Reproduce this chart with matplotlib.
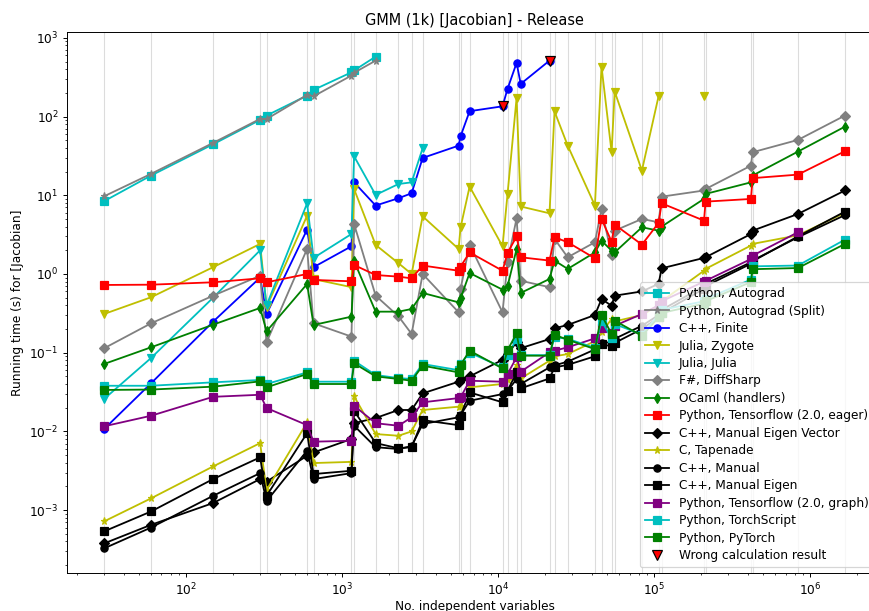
import numpy as np
import matplotlib
matplotlib.use("Agg")
import matplotlib.pyplot as plt

nan = np.nan

n_vars = [30, 60, 150, 300, 330, 600, 660, 1155, 1200, 1650, 2310, 2805, 3300,
          5610, 5775, 6600, 10725, 11550, 13200, 14025, 21450, 23100, 28050,
          41925, 46200, 53625, 56100, 83850, 107250, 112200, 209625, 214500,
          419250, 429000, 838500, 1677000]

autograd = [8.4, 17.8, 44.5, 90.7, 103, 185, 218, 365, 385, 578] + [nan] * 26
autograd_split = [9.7, 18.7, 46.3, 93.4, 93, 188, 181, 332, 360, 514] + [nan] * 26
cpp_finite = [0.0107, 0.0408, 0.248, 0.9, 0.31, 3.66, 1.22, 2.25, 14.6, 7.4, 9.17,
              10.6, 29.8, 42.7, 56.2, 117, 135, 225, 481, 260, 514] + [nan] * 15
julia_zygote = [0.31, 0.506, 1.22, 2.41, 0.38, 5.5, 0.86, 0.68, 12, 2.34, 1.37, 1.0,
                5.4, 2.08, 3.9, 12.9, 2.25, 10.4, 173, 7.2, 5.9, 116, 42.8, 7.4,
                432, 35.2, 208, 20.6, 182, nan, 182, nan, nan, nan, nan, nan]
julia_julia = [0.0258, 0.0855, 0.5, 2.0, 0.40, 7.9, 1.6, 3.22, 31.3, 10.1, 13.9,
               14.6, 39.6] + [nan] * 23
fs_diffsharp = [0.1136, 0.236, 0.53, 0.95, 0.1355, 2.08, 0.236, 0.16, 4.32, 0.53,
                0.29, 0.173, 1.0, 0.326, 0.645, 2.36, 0.326, 1.41, 5.1, 0.82, 0.68,
                2.79, 1.63, 2.53, 6.7, 1.74, 3.55, 5.0, 4.54, 9.6, 11.5, 12, 23.8,
                35.2, 50.5, 103]
ocaml = [0.0718, 0.117, 0.227, 0.37, 0.187, 0.746, 0.225, 0.287, 1.46, 0.332, 0.332,
         0.359, 0.574, 0.436, 0.49, 1.03, 0.632, 0.698, 2.08, 0.574, 0.864, 1.48,
         1.16, 1.88, 2.65, 1.98, 1.88, 3.92, 3.55, 4.0, 9.0, 10.4, 14.6, 17.8,
         35.9, 74.5]
tf_eager = [0.725, 0.731, 0.784, 0.881, 0.784, 1.0, 0.84, 0.807, 1.3, 0.97, 0.925,
            0.88, 1.28, 1.1, 1.24, 1.88, 1.1, 1.85, 3.0, 1.63, 1.48, 2.93, 2.53,
            1.58, 5.0, 2.57, 4.24, 2.36, 4.45, 7.9, 4.76, 8.3, 8.98, 16.5, 18.3, 36.3]
cpp_eigen_vector = [3.77e-4, 6.5e-4, 1.23e-3, 2.48e-3, 2.3e-3, 4.9e-3, 5.4e-3, 8.0e-3,
                    0.0127, 0.0148, 0.0187, 0.0187, 0.0304, 0.0428, 0.0463, 0.05,
                    0.081, 0.096, 0.136, 0.114, 0.149, 0.204, 0.225, 0.301, 0.48,
                    0.395, 0.53, 0.6, 0.75, 1.18, 1.6, 1.63, 3.22, 3.55, 5.79, 11.5]
c_tapenade = [7.18e-4, 1.41e-3, 3.59e-3, 7.1e-3, 1.8e-3, 0.013, 3.96e-3, 4.1e-3,
              0.0279, 9.25e-3, 8.8e-3, 0.01, 0.0187, 0.0206, 0.0212, 0.0363, 0.04,
              0.045, 0.07, 0.047, 0.079, 0.09, 0.096, 0.14, 0.181, 0.268, 0.25, 0.3,
              0.4, 0.45, 1.1, 1.16, 2.3, 2.41, 3.1, 6.0]
cpp_manual = [3.26e-4, 6.0e-4, 1.52e-3, 2.95e-3, 1.3e-3, 5.7e-3, 2.48e-3, 2.95e-3,
              0.0118, 6.3e-3, 5.97e-3, 6.5e-3, 0.0124, 0.0151, 0.0161, 0.0245,
              0.0298, 0.0329, 0.046, 0.04, 0.065, 0.069, 0.0769, 0.11, 0.133, 0.136,
              0.15, 0.22, 0.3, 0.35, 0.7, 0.75, 1.41, 1.48, 2.93, 5.6]
cpp_manual_eigen = [5.36e-4, 9.6e-4, 2.48e-3, 4.68e-3, 1.52e-3, 9.5e-3, 2.87e-3,
                    3.16e-3, 0.0183, 7.1e-3, 6.1e-3, 6.3e-3, 0.0139, 0.012, 0.0158,
                    0.0313, 0.0234, 0.0329, 0.0562, 0.0352, 0.047, 0.065, 0.07, 0.09,
                    0.129, 0.12, 0.133, 0.2, 0.28, 0.32, 0.65, 0.7, 1.35, 1.45, 3.0, 6.2]
tf_graph = [0.0116, 0.0158, 0.0275, 0.0292, 0.0198, 0.012, 7.4e-3, 7.6e-3, 0.0212,
            0.0127, 0.0118, 0.0151, 0.0234, 0.0265, 0.027, 0.044, 0.0428, 0.0536,
            0.0873, 0.0573, 0.101, 0.106, 0.117, 0.152, 0.204, 0.18, 0.22, 0.31, 0.4,
            0.45, 0.8, 0.82, 1.55, 1.71, 3.39, nan]
torchscript = [0.038, 0.038, 0.042, 0.045, 0.04, 0.0562, 0.0428, 0.0428, 0.079, 0.052,
               0.0476, 0.0463, 0.0718, 0.06, 0.072, 0.1, 0.065, 0.093, 0.149, 0.093,
               0.093, 0.157, 0.15, 0.115, 0.255, 0.152, 0.231, 0.17, 0.3, 0.35, 0.45,
               0.48, 0.85, 1.25, 1.28, 2.73]
pytorch = [0.0336, 0.034, 0.037, 0.0432, 0.0363, 0.0536, 0.04, 0.04, 0.0733, 0.05,
           0.0463, 0.044, 0.0684, 0.0562, 0.0697, 0.106, 0.063, 0.108, 0.176, 0.0916,
           0.0916, 0.169, 0.146, 0.111, 0.301, 0.173, 0.255, 0.164, 0.28, 0.32, 0.42,
           0.45, 0.79, 1.15, 1.19, 2.41]

wrong_n = [10725, 21450]
wrong_t = [135, 514]

series = [
    ("Python, Autograd", autograd, "c", "s"),
    ("Python, Autograd (Split)", autograd_split, "gray", "*"),
    ("C++, Finite", cpp_finite, "b", "o"),
    ("Julia, Zygote", julia_zygote, "y", "v"),
    ("Julia, Julia", julia_julia, "c", "v"),
    ("F#, DiffSharp", fs_diffsharp, "gray", "D"),
    ("OCaml (handlers)", ocaml, "g", "d"),
    ("Python, Tensorflow (2.0, eager)", tf_eager, "r", "s"),
    ("C++, Manual Eigen Vector", cpp_eigen_vector, "k", "D"),
    ("C, Tapenade", c_tapenade, "y", "*"),
    ("C++, Manual", cpp_manual, "k", "o"),
    ("C++, Manual Eigen", cpp_manual_eigen, "k", "s"),
    ("Python, Tensorflow (2.0, graph)", tf_graph, "purple", "s"),
    ("Python, TorchScript", torchscript, "c", "s"),
    ("Python, PyTorch", pytorch, "g", "s"),
]

DPI = 87
fig = plt.figure(figsize=(869 / DPI, 611 / DPI), dpi=DPI)
ax = fig.add_axes([67 / 869, 1 - 573 / 611, (882 - 67) / 869, (573 - 32) / 611])

for x in n_vars:
    ax.axvline(x, color="#dcdcdc", lw=0.9, zorder=0)

for label, vals, col, mk in series:
    ax.plot(n_vars, np.array(vals, dtype=float), color=col, marker=mk, label=label,
            lw=1.5, ms=6)

ax.plot(wrong_n, wrong_t, linestyle="none", marker="v", color="r",
        markeredgecolor="k", ms=9, label="Wrong calculation result")

ax.set_xscale("log")
ax.set_yscale("log")
ax.set_title("GMM (1k) [Jacobian] - Release")
ax.set_xlabel("No. independent variables", labelpad=1.5)
ax.set_ylabel("Running time (s) for [Jacobian]")
ax.legend(loc="lower left", bbox_to_anchor=(640 / 869, (611 - 567) / 611),
          bbox_transform=fig.transFigure, borderaxespad=0, labelspacing=0.37)

fig.savefig("out.png", dpi=DPI)
